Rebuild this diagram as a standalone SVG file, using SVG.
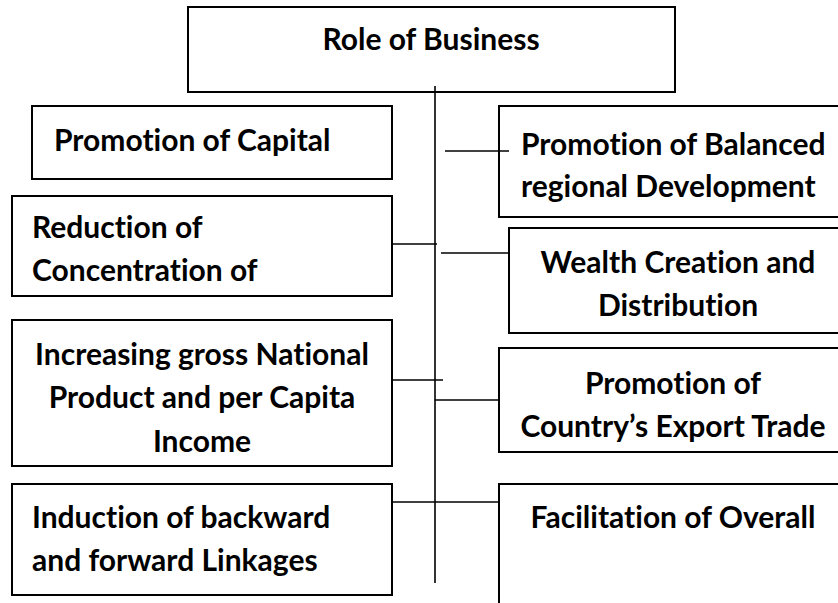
<svg xmlns="http://www.w3.org/2000/svg" width="838" height="603" viewBox="0 0 838 603">
  <style>
    .box { fill: #ffffff; stroke: #000000; stroke-width: 2; }
    .conn { fill: none; stroke: #000000; stroke-width: 1.6; }
    .lbl { font-family: Lato, "Liberation Sans", Arial, sans-serif; font-weight: bold; font-size: 30px; fill: #000000; font-variant-ligatures: none; }
    .mid { text-anchor: middle; }
  </style>
  <rect x="0" y="0" width="838" height="603" fill="#ffffff"/>

  <!-- root -->
  <g id="role-of-business">
    <rect class="box" x="188" y="7" width="487" height="85"/>
    <text class="lbl mid" x="431" y="50">Role of Business</text>
  </g>

  <!-- left column -->
  <g id="promotion-of-capital">
    <rect class="box" x="32" y="106" width="360" height="73"/>
    <text class="lbl" x="54" y="151">Promotion of Capital</text>
  </g>
  <g id="reduction-of-concentration">
    <rect class="box" x="12" y="196" width="380" height="100"/>
    <text class="lbl" x="32" y="238">Reduction of</text>
    <text class="lbl" x="32" y="281">Concentration of</text>
  </g>
  <g id="increasing-gnp">
    <rect class="box" x="12" y="320" width="380" height="146"/>
    <text class="lbl mid" x="202" y="365">Increasing gross National</text>
    <text class="lbl mid" x="202" y="408">Product and per Capita</text>
    <text class="lbl mid" x="202" y="452">Income</text>
  </g>
  <g id="induction-of-linkages">
    <rect class="box" x="12" y="484" width="380" height="111"/>
    <text class="lbl" x="32" y="528">Induction of backward</text>
    <text class="lbl" x="32" y="571">and forward Linkages</text>
  </g>

  <!-- right column (boxes run past the right edge) -->
  <g id="balanced-regional-development">
    <rect class="box" x="499" y="106" width="350" height="111"/>
    <text class="lbl" x="521" y="155">Promotion of Balanced</text>
    <text class="lbl" x="521" y="197">regional Development</text>
  </g>
  <g id="wealth-creation">
    <rect class="box" x="509" y="228" width="340" height="105"/>
    <text class="lbl mid" x="678" y="273">Wealth Creation and</text>
    <text class="lbl mid" x="678" y="316">Distribution</text>
  </g>
  <g id="export-trade">
    <rect class="box" x="499" y="348" width="350" height="104"/>
    <text class="lbl mid" x="673" y="394">Promotion of</text>
    <text class="lbl mid" x="673" y="437">Country’s Export Trade</text>
  </g>
  <g id="facilitation-of-overall">
    <rect class="box" x="499" y="484" width="350" height="140"/>
    <text class="lbl mid" x="673" y="528">Facilitation of Overall</text>
  </g>

  <!-- connectors -->
  <g id="connectors">
    <path class="conn" d="M435 86 V583"/>
    <path class="conn" d="M445 151 H509"/>
    <path class="conn" d="M393 244 H437"/>
    <path class="conn" d="M441 253 H509"/>
    <path class="conn" d="M393 380 H443"/>
    <path class="conn" d="M435 400 H499"/>
    <path class="conn" d="M392 502 H499"/>
  </g>
</svg>
